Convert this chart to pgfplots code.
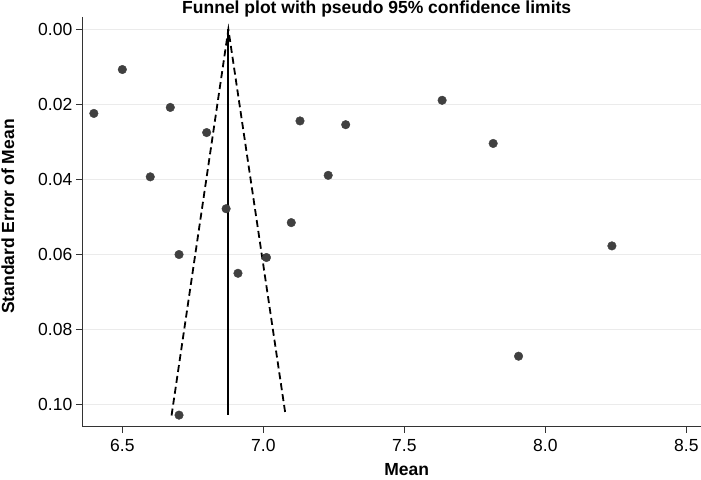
\documentclass[border=0pt]{standalone}
\usepackage{fontspec}
\setmainfont{Liberation Sans}
\usepackage{pgfplots}
\pgfplotsset{compat=1.18}
\definecolor{markc}{HTML}{404040}
\definecolor{gridc}{HTML}{EBEBEB}
\definecolor{axc}{HTML}{333333}
\begin{document}
\begin{tikzpicture}[x=1bp,y=1bp]
\path[use as bounding box] (0,0) rectangle (701,480);
\begin{axis}[
  at={(82.3bp,54bp)}, anchor=south west,
  scale only axis, width=618.7bp, height=409bp,
  xmin=6.358, xmax=8.552,
  y dir=reverse, ymin=-0.0033, ymax=0.1057,
  axis x line*=bottom, axis y line*=left,
  axis line style={axc, line width=1bp},
  tick style={axc, line width=1bp},
  tick align=outside, major tick length=6.5bp,
  xtick={6.5,7.0,7.5,8.0,8.5},
  ytick={0,0.02,0.04,0.06,0.08,0.10},
  xticklabel style={yshift=-3bp,/pgf/number format/.cd,fixed,fixed zerofill,precision=1,assume math mode=true},
  yticklabel style={/pgf/number format/.cd,fixed,fixed zerofill,precision=2,assume math mode=true},
  scaled ticks=false,
  ticklabel style={font=\fontsize{17.5bp}{20bp}\selectfont},
  ymajorgrids, grid style={gridc, line width=1.4bp},
  clip=false,
]
\addplot[black, line width=1.8bp, dash pattern=on 7bp off 4bp] coordinates {(6.6745,0.1029) (6.876,0) (7.079,0.1029)};
\addplot[black, line width=1.8bp] coordinates {(6.876,0) (6.876,0.1029)};
\addplot[only marks, mark=*, mark size=4.3bp, mark options={fill=markc, draw=markc}] coordinates {
(6.500,0.0107)
(6.399,0.0224)
(6.670,0.0208)
(6.799,0.0275)
(6.599,0.0393)
(6.868,0.0478)
(7.130,0.0244)
(7.292,0.0254)
(7.230,0.0389)
(7.099,0.0515)
(7.634,0.0189)
(7.815,0.0304)
(6.701,0.0600)
(7.011,0.0608)
(6.910,0.0650)
(6.701,0.1028)
(8.236,0.0577)
(7.905,0.0871)
};
\end{axis}
\node[anchor=base, font=\bfseries\fontsize{17.5bp}{20bp}\selectfont, inner sep=0pt] at (376.7,466) {Funnel plot with pseudo 95\% confidence limits};
\node[anchor=base, font=\bfseries\fontsize{17.5bp}{20bp}\selectfont, inner sep=0pt] at (406.7,4.5) {Mean};
\node[anchor=base, rotate=90, font=\bfseries\fontsize{17.5bp}{20bp}\selectfont, inner sep=0pt] at (14,263.5) {Standard Error of Mean};
\end{tikzpicture}
\end{document}
